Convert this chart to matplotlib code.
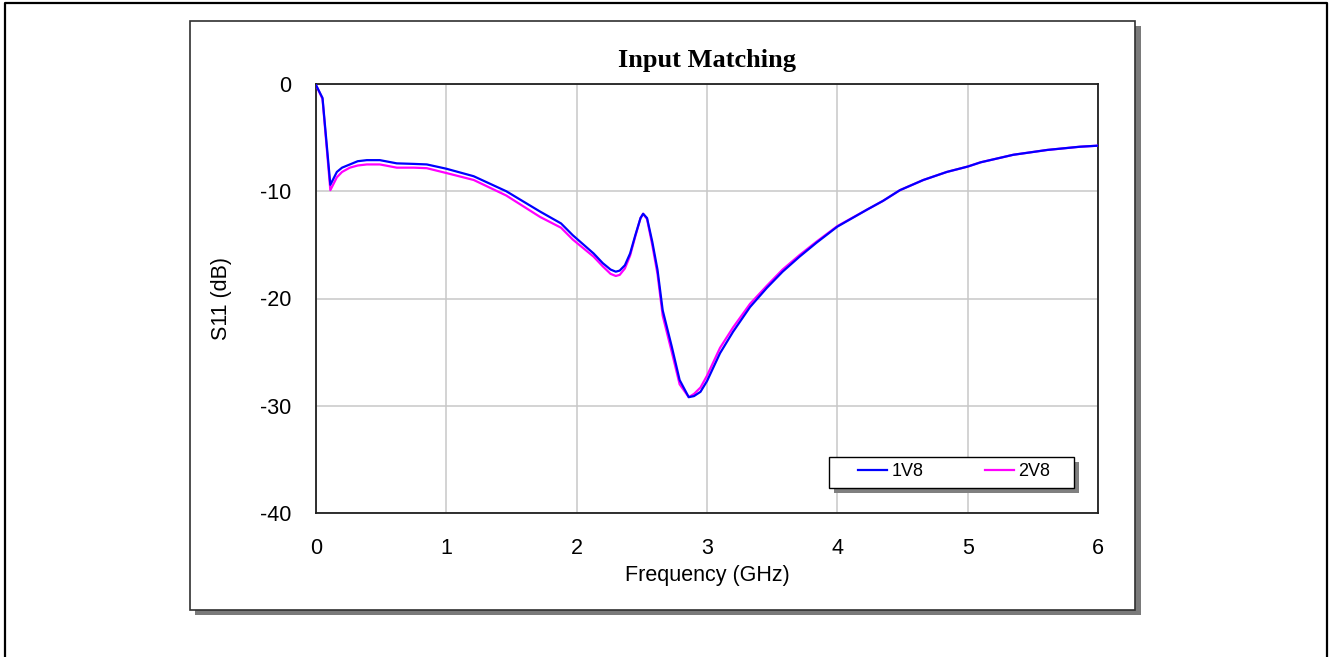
import matplotlib
matplotlib.use("Agg")
import matplotlib.pyplot as plt
from matplotlib.patches import Rectangle

plt.rcParams["axes.unicode_minus"] = False

# S11 (GHz, dB)
freq = [0, 0.05, 0.11, 0.16, 0.2, 0.26, 0.32, 0.39, 0.49, 0.62, 0.75, 0.85, 1.0,
        1.21, 1.46, 1.72, 1.88, 1.97, 2.13, 2.2, 2.26, 2.30, 2.33, 2.37, 2.41,
        2.45, 2.49, 2.51, 2.54, 2.58, 2.62, 2.66, 2.73, 2.79, 2.86, 2.9, 2.95,
        3.0, 3.1, 3.2, 3.33, 3.46, 3.58, 3.71, 3.84, 4.0, 4.23, 4.35, 4.48,
        4.66, 4.84, 5.0, 5.1, 5.35, 5.61, 5.86, 6.0]
s11_1v8 = [-0.1, -1.3, -9.4, -8.2, -7.8, -7.5, -7.2, -7.1, -7.1, -7.4, -7.45, -7.5, -7.9,
           -8.6, -10.0, -11.9, -13.0, -14.1, -15.8, -16.7, -17.3, -17.5, -17.4, -16.9, -15.8,
           -14.1, -12.5, -12.1, -12.5, -14.7, -17.3, -21.1, -24.5, -27.6, -29.2, -29.1, -28.7,
           -27.7, -25.1, -23.1, -20.8, -19.0, -17.5, -16.1, -14.8, -13.3, -11.7, -10.9, -9.9,
           -8.95, -8.2, -7.7, -7.3, -6.6, -6.15, -5.85, -5.75]
s11_2v8 = [-0.1, -1.4, -9.9, -8.7, -8.2, -7.8, -7.6, -7.5, -7.5, -7.8, -7.8, -7.85, -8.3,
           -8.95, -10.4, -12.4, -13.4, -14.5, -16.1, -17.0, -17.7, -17.9, -17.8, -17.2, -16.0,
           -14.2, -12.5, -12.1, -12.6, -15.0, -17.7, -21.6, -25.0, -28.0, -29.2, -28.9, -28.3,
           -27.2, -24.6, -22.7, -20.5, -18.8, -17.3, -15.95, -14.7, -13.25, -11.7, -10.9, -9.9,
           -8.95, -8.2, -7.7, -7.3, -6.6, -6.15, -5.85, -5.75]
x_ticks = [0, 1, 2, 3, 4, 5, 6]
y_ticks = [-40, -30, -20, -10, 0]

W, H = 1330, 657
sans = "Liberation Sans"
serif = "Liberation Serif"


def fx(px):
    return px / W


def fy(py):
    return 1 - py / H


fig = plt.figure(figsize=(W / 100, H / 100), dpi=100)

# outer frame (bottom edge runs off the image)
fig.add_artist(plt.Line2D([fx(5), fx(5), fx(1327), fx(1327)], [0, fy(3), fy(3), 0],
                          color="black", lw=1.6, zorder=-3))
# inner panel with drop shadow
fig.add_artist(Rectangle((fx(195), fy(615)), fx(946), 589 / H, facecolor="#7a7a7a",
                         edgecolor="none", zorder=-2))
fig.add_artist(Rectangle((fx(190), fy(610)), fx(945), 589 / H, facecolor="white",
                         edgecolor="#303030", lw=1.2, zorder=-1))

ax = fig.add_axes([fx(316), fy(513), fx(1098 - 316), (513 - 84) / H])
ax.plot(freq, s11_2v8, color="#ff00ff", lw=1.6, label="2V8", zorder=3)
ax.plot(freq, s11_1v8, color="#0000ff", lw=1.6, label="1V8", zorder=4)

ax.set_xlim(0, 6)
ax.set_ylim(-40, 0)
ax.set_xticks(x_ticks)
ax.set_yticks(y_ticks)
ax.grid(True, color="#c8c8c8", lw=1.1)
ax.set_axisbelow(True)
for sp in ax.spines.values():
    sp.set_linewidth(1.3)
    sp.set_color("#202020")
ax.tick_params(length=0, labelsize=15.5, pad=18)
for lab in ax.get_xticklabels() + ax.get_yticklabels():
    lab.set_fontfamily(sans)

ax.set_xlabel("Frequency (GHz)", fontsize=15.5, fontfamily=sans)
ax.set_ylabel("S11 (dB)", fontsize=15.5, fontfamily=sans)
ax.xaxis.set_label_coords(0.5, -(576 - 513) / 429)
ax.xaxis.label.set_va("center")
ax.yaxis.set_label_coords(-(316 - 222) / 782, 0.5)
ax.yaxis.label.set_va("center")

fig.text(fx(707), fy(61), "Input Matching", ha="center", va="center",
         fontsize=19, fontweight="bold", fontfamily=serif)

# legend box with shadow
ax.add_patch(Rectangle((fx(834), fy(493)), fx(245), 31 / H, transform=fig.transFigure,
                       facecolor="#808080", edgecolor="none", clip_on=False, zorder=6))
ax.add_patch(Rectangle((fx(829), fy(488)), fx(245), 31 / H, transform=fig.transFigure,
                       facecolor="white", edgecolor="black", lw=1.0, clip_on=False, zorder=7))
handles, labels = ax.get_legend_handles_labels()
leg = ax.legend(handles[::-1], labels[::-1], ncol=2, frameon=False, loc="center left",
                bbox_to_anchor=(fx(858), fy(472)), bbox_transform=fig.transFigure,
                borderpad=0, borderaxespad=0, handlelength=1.6, handletextpad=0.25,
                columnspacing=3.4, prop={"family": sans, "size": 13})
leg.set_zorder(8)

fig.savefig("out.png", dpi=100)
